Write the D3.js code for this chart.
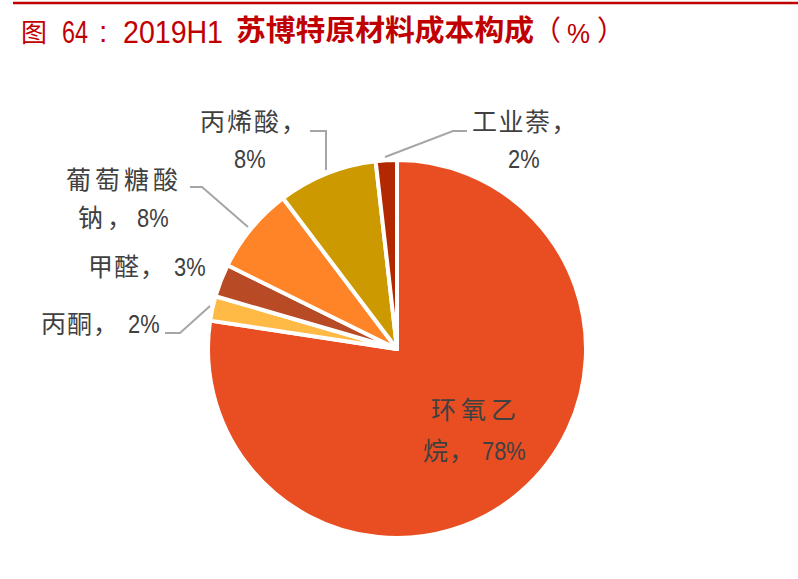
<!DOCTYPE html>
<html>
<head>
<meta charset="utf-8">
<script src="https://cdn.jsdelivr.net/npm/d3@7"></script>
<style>
body { margin: 0; background: #fff; }
</style>
</head>
<body>
<script>
// data
var names = ["环氧乙烷", "丙酮", "甲醛", "葡萄糖酸钠", "丙烯酸", "工业萘"]
var values = [77.4, 2.1, 2.8, 7.4, 8.5, 1.8]
var shown = ["78%", "2%", "3%", "8%", "8%", "2%"]
var colors = ["#E84E22", "#FFBA45", "#B84A26", "#FF8427", "#CC9900", "#B22800"]

var width = 798, height = 579
var cx = 397, cy = 349, radius = 189

var CJK = "'Noto Sans CJK SC', 'Noto Sans CJK JP', sans-serif"
var LAT = "'Liberation Sans', Arial, sans-serif"

var svg = d3.select("body").append("svg")
    .attr("width", width)
    .attr("height", height)

// put a text, optionally squeezed to look like a narrow font
function put(x, y, str, font, size, opts) {
    opts = opts || {}
    var t = svg.append("text")
        .attr("x", x).attr("y", y)
        .attr("fill", opts.fill || "#404040")
        .style("font-family", font)
        .style("font-size", size + "px")
        .text(str)
    if (opts.bold) t.style("font-weight", "bold")
    if (opts.spacing) t.style("letter-spacing", opts.spacing + "px")
    if (opts.squeeze) {
        var w = t.node().getComputedTextLength()
        t.attr("textLength", w * opts.squeeze).attr("lengthAdjust", "spacingAndGlyphs")
    }
    if (opts.fit) {
        t.attr("textLength", opts.fit).attr("lengthAdjust", "spacingAndGlyphs")
    }
    return t
}

// title
svg.append("line")
    .attr("x1", 13).attr("x2", width)
    .attr("y1", 3).attr("y2", 3)
    .attr("stroke", "#C00000")
    .attr("stroke-width", 2.5)

var red = "#C00000"
put(21, 42, "图", CJK, 26, { fill: red })
put(62, 43, "64", LAT, 32, { fill: red, fit: 26 })
put(99, 42, ":", LAT, 30, { fill: red })
put(123, 43, "2019H1", LAT, 32, { fill: red, fit: 100 })
put(236, 41, "苏博特原材料成本构成", CJK, 29, { fill: red, bold: true, fit: 298 })
put(533, 41, "（", CJK, 28, { fill: red })
put(567, 43, "%", LAT, 28, { fill: red, fit: 23 })
put(597, 41, "）", CJK, 28, { fill: red })

// pie
var pie = d3.pie().sort(null).value(function (d) { return d })
var arc = d3.arc().innerRadius(0).outerRadius(radius)

var g = svg.append("g").attr("transform", "translate(" + cx + "," + cy + ")")
g.selectAll("path")
    .data(pie(values))
    .enter()
    .append("path")
    .attr("d", arc)
    .attr("fill", function (d, i) { return colors[i] })
    .attr("stroke", "#fff")
    .attr("stroke-width", 4)
    .attr("stroke-linejoin", "round")

// leader lines (page coords)
var leaders = [
    [[385, 157], [453, 131], [467, 131]],
    [[326, 170], [326, 131], [310, 131]],
    [[248, 227], [202, 187], [190, 187]],
    [[210, 306], [180, 333], [165, 333]]
]
svg.selectAll(".leader")
    .data(leaders)
    .enter()
    .append("path")
    .attr("class", "leader")
    .attr("d", d3.line())
    .attr("fill", "none")
    .attr("stroke", "#A6A6A6")
    .attr("stroke-width", 2)

// labels
var fs = 25, nfs = 26, sq = 0.84
// 环氧乙烷
put(431, 419, "环氧乙", CJK, fs, { spacing: 5 })
put(423, 460, "烷，", CJK, fs, { spacing: 1 })
put(482, 460, shown[0], LAT, nfs, { squeeze: sq })
// 丙酮
put(41, 333, "丙酮，", CJK, fs, { spacing: 1 })
put(128, 333, shown[1], LAT, nfs, { squeeze: sq })
// 甲醛
put(88, 276, "甲醛，", CJK, fs, { spacing: 1 })
put(174, 276, shown[2], LAT, nfs, { squeeze: sq })
// 葡萄糖酸钠
put(66, 189, "葡萄糖酸", CJK, fs, { spacing: 4 })
put(78, 227, "钠，", CJK, fs, { spacing: 4 })
put(137, 227, shown[3], LAT, nfs, { squeeze: sq })
// 丙烯酸
put(200, 131, "丙烯酸，", CJK, fs, { spacing: 2 })
put(234, 168, shown[4], LAT, nfs, { squeeze: sq })
// 工业萘
put(472, 131, "工业萘，", CJK, fs, { spacing: 1.5 })
put(508, 168, shown[5], LAT, nfs, { squeeze: sq })
</script>
</body>
</html>
